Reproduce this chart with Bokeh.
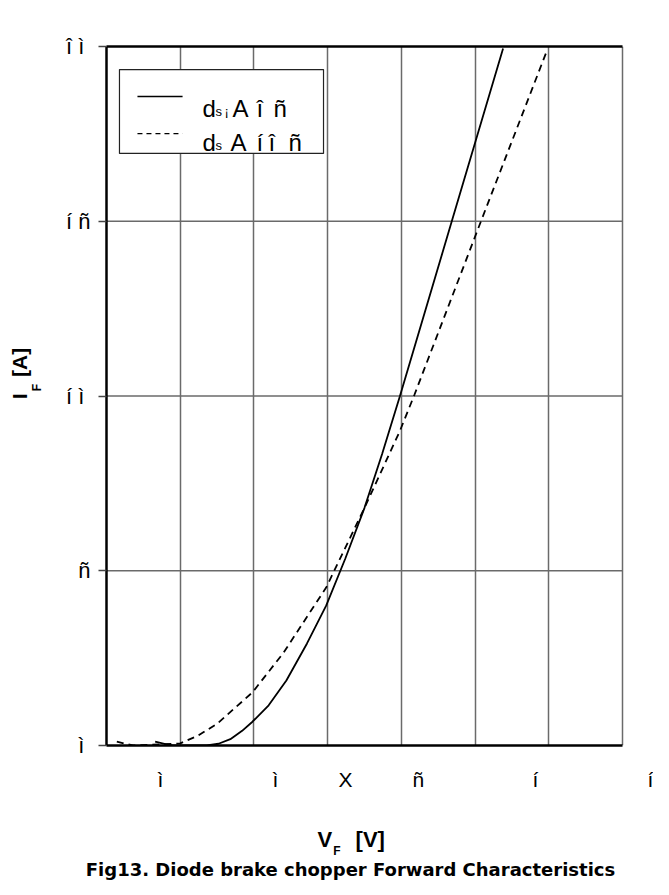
from bokeh.plotting import figure
from bokeh.models import LinearAxis, FixedTicker, Range1d, Label
from bokeh.embed import file_html
from bokeh.resources import INLINE

# ---------------- data ----------------
vf_25 = [0.33, 0.40, 0.45, 0.50, 0.68, 0.76, 0.84, 0.92, 0.99, 1.10, 1.22, 1.36, 1.49, 1.62, 1.75, 1.87, 1.99, 2.34, 2.69]
if_25 = [0.11, 0.04, 0.0, 0.0, 0.0, 0.05, 0.18, 0.42, 0.68, 1.15, 1.86, 2.92, 4.00, 5.35, 6.80, 8.35, 9.99, 14.97, 19.94]

vf_125 = [0.07, 0.18, 0.50, 0.62, 0.75, 0.99, 1.20, 1.49, 1.75, 1.99, 2.09, 2.54, 2.98]
if_125 = [0.11, 0.00, 0.06, 0.28, 0.62, 1.52, 2.65, 4.52, 6.80, 9.00, 10.05, 15.00, 19.80]

y_ticks = [0, 5, 10, 15, 20]
y_tick_labels = ["ì ", "ñ", "í ì ", "í ñ", "î ì "]
x_grid = [0.5, 1.0, 1.5, 2.0, 2.5, 3.0, 3.5]
y_grid = [5, 10, 15]
x_tick_labels = ["ì", "ì", "X", "ñ", "í", "í"]
x_tick_pos = [0.366, 1.146, 1.621, 2.116, 2.910, 3.690]

x_title = ["V", "[V]"]
x_title_pos = [1.481, 1.789]
x_title_sub = "F"
x_title_sub_pos = 1.563
y_title = ["I", "[A]"]
y_title_pos = [9.99, 10.96]
y_title_sub = "F"
y_title_sub_pos = 10.24

legend_lines = [["d", "s", "¡", "A", "î", "ñ"], ["d", "s", "A", "í", "î", "ñ"]]
caption = "Fig13. Diode brake chopper Forward Characteristics"
caption_pos = 1.655

FONT = "Liberation Sans"
X_END = 3.5
GRID = "#6a6a6a"

p = figure(frame_width=547, frame_height=699,
           x_range=Range1d(0, 547 / 147.43), y_range=Range1d(0, 20),
           min_border_left=106, min_border_right=0, min_border_top=46, min_border_bottom=134,
           output_backend="svg", toolbar_location=None, tools="")
p.outline_line_color = None
p.background_fill_color = "white"
p.border_fill_color = "white"

# grid: vertical lines from the grid, horizontal lines limited to the plot box
p.xgrid.ticker = FixedTicker(ticks=x_grid)
p.xgrid.grid_line_color = GRID
p.xgrid.grid_line_width = 1.5
p.ygrid.visible = False
p.segment(x0=[0] * len(y_grid), y0=y_grid, x1=[X_END] * len(y_grid), y1=y_grid,
          line_color=GRID, line_width=1.5, level="underlay")

# bottom frame line
xa = p.xaxis[0]
xa.ticker = FixedTicker(ticks=[])
xa.bounds = (0, X_END)
xa.axis_line_color = "black"
xa.axis_line_width = 2.5
xa.major_tick_out = 0
xa.major_tick_in = 0
xa.minor_tick_out = 0
xa.minor_tick_in = 0
xa.major_label_text_font_size = "0px"

# y axis with tick labels
ya = p.yaxis[0]
ya.ticker = FixedTicker(ticks=y_ticks)
ya.major_label_overrides = {t: l for t, l in zip(y_ticks, y_tick_labels)}
ya.axis_line_color = "black"
ya.axis_line_width = 2.5
ya.major_tick_line_color = "#444444"
ya.major_tick_line_width = 1.5
ya.major_tick_out = 8
ya.major_tick_in = 0
ya.minor_tick_line_color = None
ya.major_label_text_font = FONT
ya.major_label_text_font_size = "22px"
ya.major_label_text_color = "black"
ya.major_label_standoff = 8

# top frame line
top = LinearAxis(ticker=FixedTicker(ticks=[]), bounds=(0, X_END), axis_line_color="black",
                 axis_line_width=2.5, major_tick_out=0, major_tick_in=0,
                 minor_tick_out=0, minor_tick_in=0, major_label_text_font_size="0px")
p.add_layout(top, "above")


def text_axis(side, ticks, labels, size, style, standoff, font=FONT, orientation="horizontal"):
    ax = LinearAxis(ticker=FixedTicker(ticks=ticks),
                    major_label_overrides={t: l for t, l in zip(ticks, labels)},
                    axis_line_color=None, major_tick_line_color=None, minor_tick_line_color=None,
                    major_tick_out=0, major_tick_in=0, minor_tick_out=0, minor_tick_in=0,
                    major_label_text_font=font, major_label_text_font_size=size,
                    major_label_text_font_style=style, major_label_text_color="black",
                    major_label_standoff=standoff, major_label_orientation=orientation)
    p.add_layout(ax, side)
    return ax


# below: tick labels, axis title (with subscript), caption
text_axis("below", x_tick_pos, x_tick_labels, "21px", "normal", 22)
text_axis("below", x_title_pos, x_title, "22px", "bold", 33)
text_axis("below", [x_title_sub_pos], [x_title_sub], "12px", "bold", -11)
text_axis("below", [caption_pos], [caption], "18px", "bold", -2, font="DejaVu Sans")

# left: subscript then main title letters (rotated)
text_axis("left", [y_title_sub_pos], [y_title_sub], "12px", "bold", 19, orientation="vertical")
text_axis("left", y_title_pos, y_title, "21px", "bold", -4, orientation="vertical")

# curves
p.line(vf_25, if_25, line_color="black", line_width=1.8)
p.line(vf_125, if_125, line_color="black", line_width=1.8, line_dash="7 5")

# legend
p.quad(left=[0.088], right=[1.472], bottom=[16.94], top=[19.34],
       fill_color="white", line_color="#222222", line_width=1.2)
p.line([0.210, 0.516], [18.57, 18.57], line_color="black", line_width=1.3)
p.line([0.210, 0.516], [17.51, 17.51], line_color="black", line_width=1.3, line_dash="5 4")


def lab(x, y, t, size):
    p.add_layout(Label(x=x, y=y, text=t, text_font=FONT, text_font_size=size,
                       text_baseline="alphabetic", text_color="black"))


l1 = legend_lines[0]
lab(0.651, 18.24, l1[0], "24px")
lab(0.739, 18.14, l1[1], "13px")
lab(0.800, 18.14, l1[2], "13px")
lab(0.855, 18.24, l1[3], "24px")
lab(1.017, 18.24, l1[4], "24px")
lab(1.133, 18.24, l1[5], "24px")
l2 = legend_lines[1]
lab(0.651, 17.26, l2[0], "24px")
lab(0.739, 17.17, l2[1], "13px")
lab(0.841, 17.26, l2[2], "24px")
lab(1.017, 17.26, l2[3], "24px")
lab(1.099, 17.26, l2[4], "24px")
lab(1.234, 17.26, l2[5], "24px")

open("out.html", "w").write(file_html(p, INLINE))
